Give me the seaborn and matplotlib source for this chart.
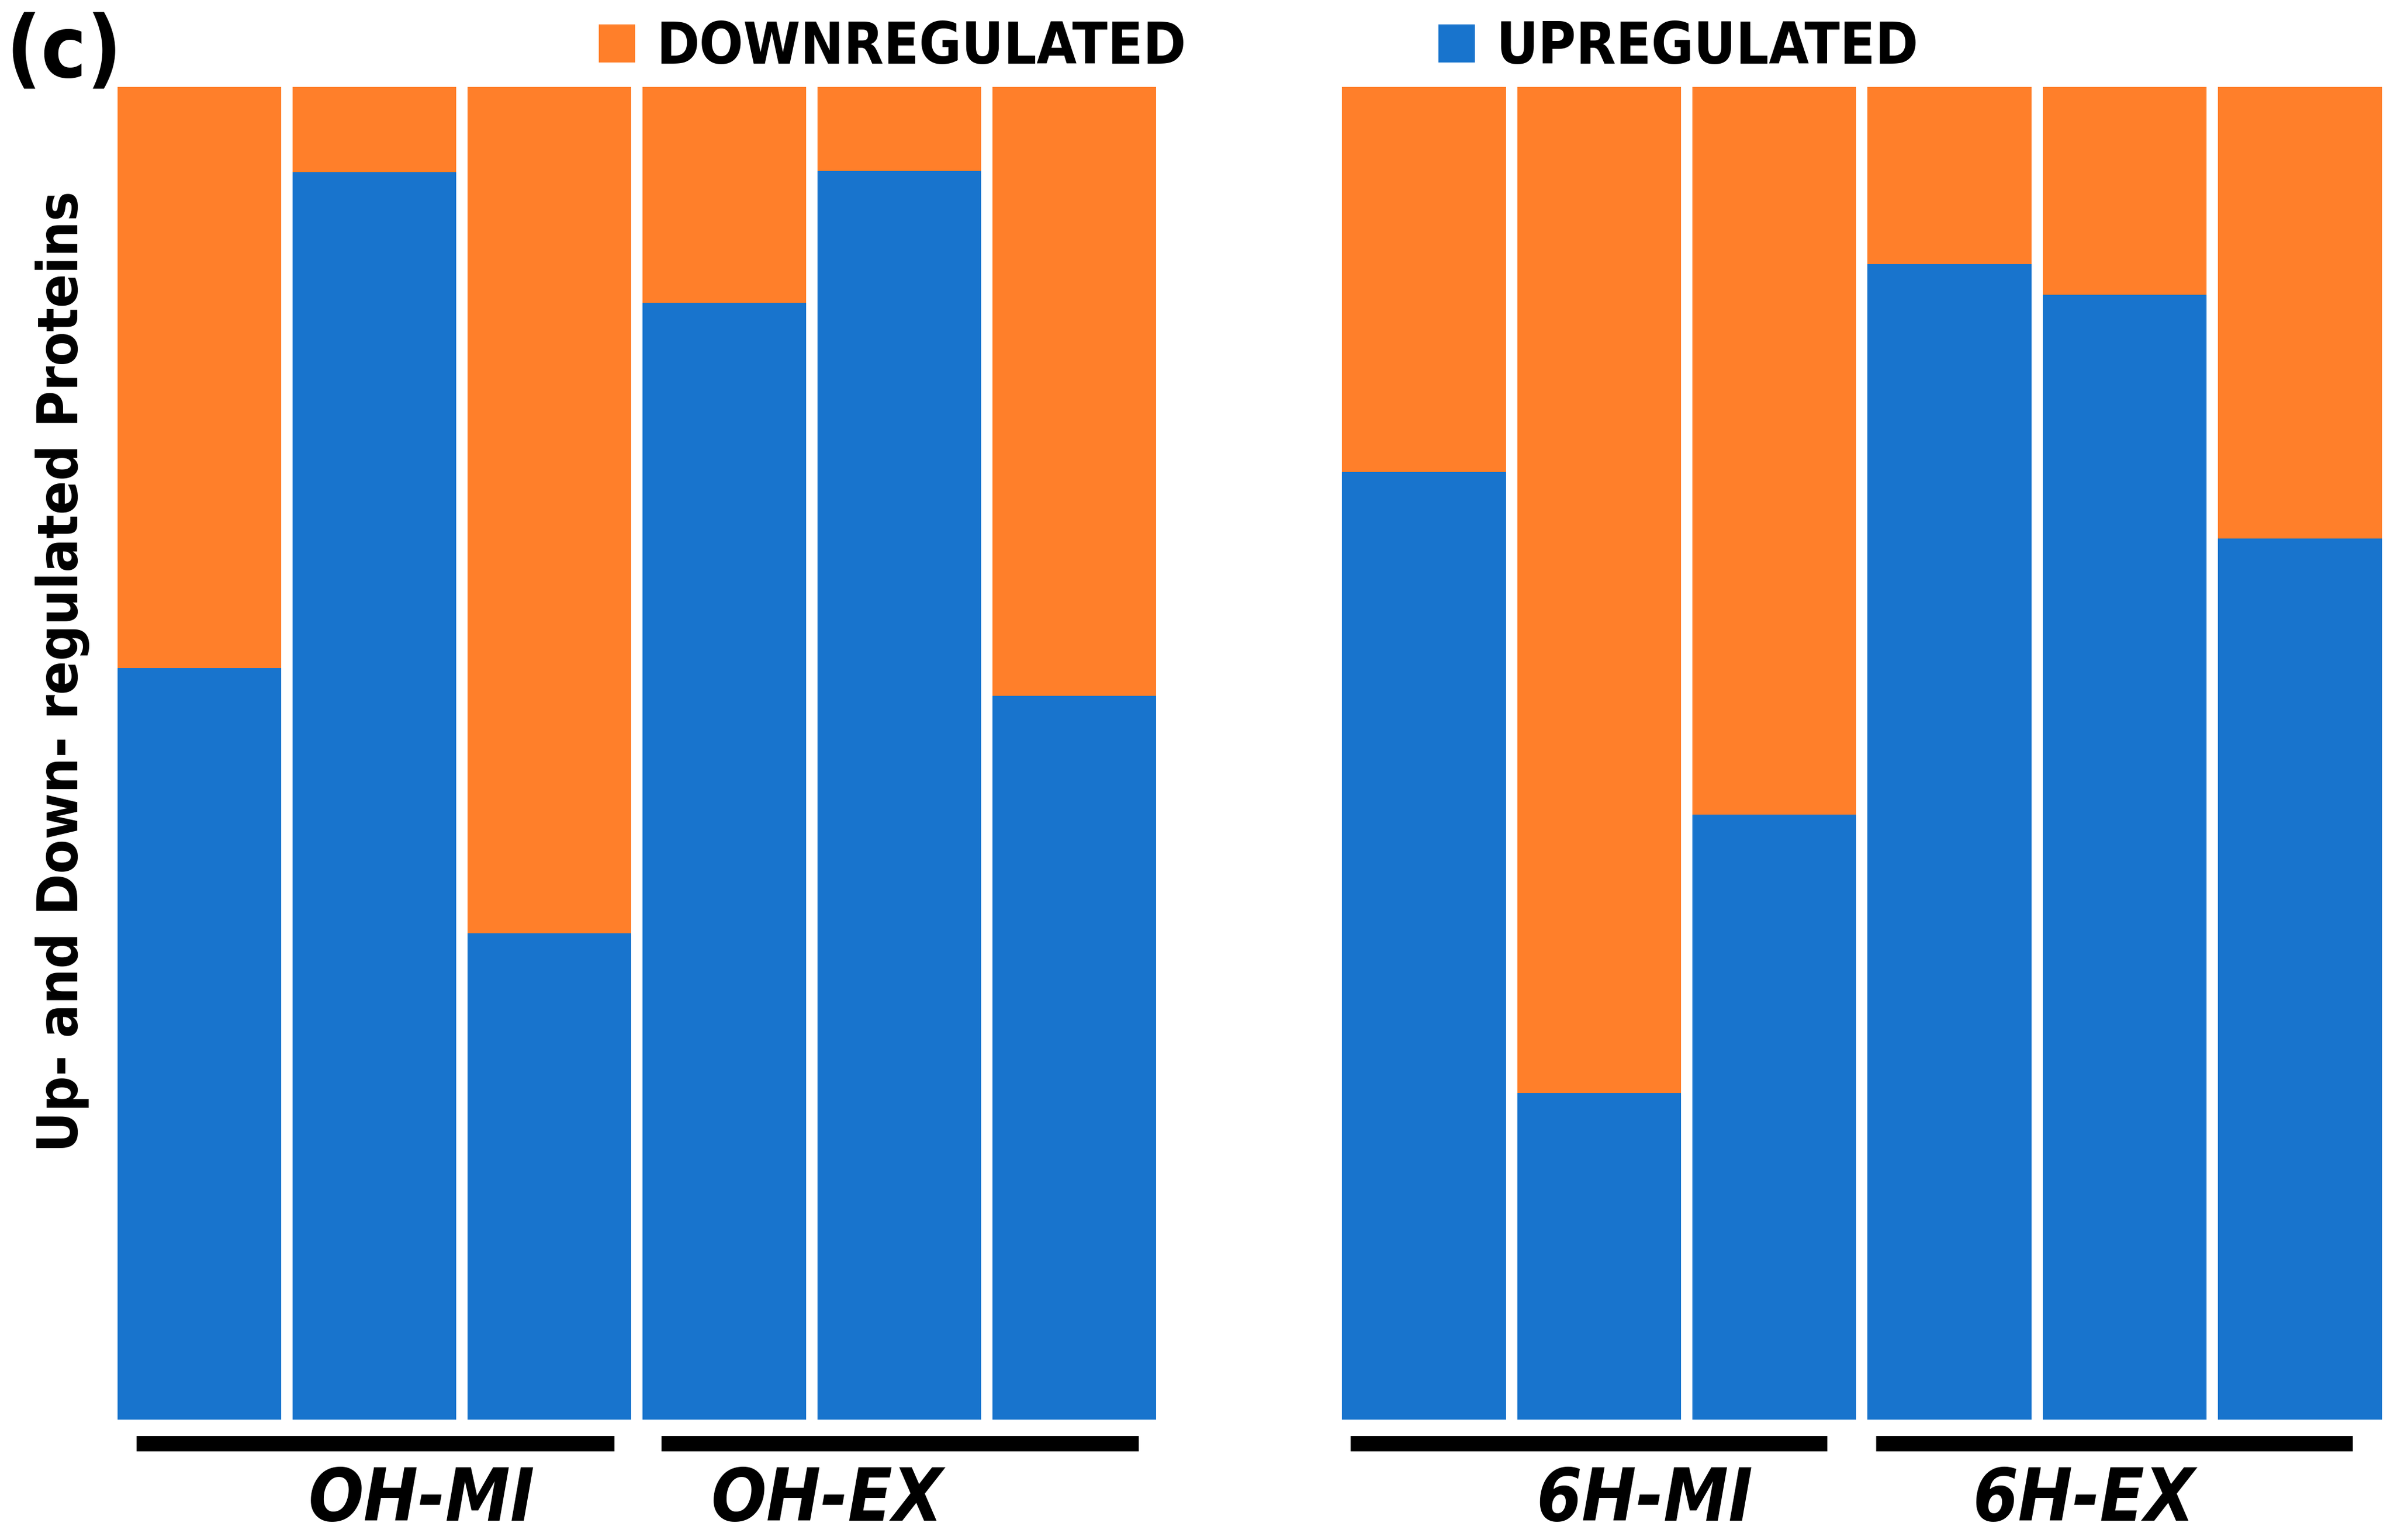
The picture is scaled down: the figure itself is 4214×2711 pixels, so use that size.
import matplotlib
matplotlib.use("Agg")
import matplotlib.pyplot as plt
from matplotlib import font_manager
import pandas as pd
import seaborn as sns

# share of up-regulated proteins per sample (%), the rest is down-regulated
left_samples = ["OH-MI-1", "OH-MI-2", "OH-MI-3", "OH-EX-1", "OH-EX-2", "OH-EX-3"]
left_up = [56.4, 93.6, 36.5, 83.8, 93.7, 54.3]
right_samples = ["6H-MI-1", "6H-MI-2", "6H-MI-3", "6H-EX-1", "6H-EX-2", "6H-EX-3"]
right_up = [71.1, 24.5, 45.4, 86.7, 84.4, 66.1]
left_groups = ["OH-MI", "OH-EX"]
right_groups = ["6H-MI", "6H-EX"]

ORANGE = "#FF7F2A"
BLUE = "#1874CD"
BAR_W = 0.935
PX = 4214 / 1568  # reference measurements were taken on a 1568 px wide view

sns.set_theme(style="white")


def weight_of(f):
    w = f.weight
    return font_manager.weight_dict.get(w, 400) if isinstance(w, str) else w


# the reference uses a bold condensed face; take one if installed
fonts = font_manager.fontManager.ttflist
narrow = [f for f in fonts
          if ("Narrow" in f.name or "Condensed" in f.name
              or f.stretch in ("condensed", "semi-condensed", "extra-condensed"))
          and weight_of(f) >= 600 and "Light" not in f.name and "Thin" not in f.name]
if narrow:
    family, stretch = narrow[0].name, narrow[0].stretch
else:
    family, stretch = "Liberation Sans", "normal"
plt.rcParams["font.family"] = [family, "DejaVu Sans"]
plt.rcParams["font.stretch"] = stretch
plt.rcParams["text.color"] = "black"

fig = plt.figure(figsize=(42.14, 27.11), dpi=100)
renderer = fig.canvas.get_renderer()


def fit(t, target_px, vertical=False):
    bb = t.get_window_extent(renderer)
    cur = bb.height if vertical else bb.width
    t.set_fontsize(t.get_fontsize() * target_px / cur)
    return t


def panel(ax, samples, up, groups, label_x, span):
    df = pd.DataFrame({"sample": samples, "up": up, "total": [100] * len(up)})
    sns.barplot(data=df, x="sample", y="total", color=ORANGE, saturation=1,
                width=BAR_W, linewidth=0, ax=ax, label="DOWNREGULATED")
    sns.barplot(data=df, x="sample", y="up", color=BLUE, saturation=1,
                width=BAR_W, linewidth=0, ax=ax, label="UPREGULATED")
    if ax.get_legend():
        ax.get_legend().remove()
    ax.set_xlim(-BAR_W / 2, len(samples) - 1 + BAR_W / 2)
    ax.set_ylim(0, 100)
    ax.set_axis_off()
    tr = ax.get_xaxis_transform()
    for i, g in enumerate(groups):
        start = i * 3
        ax.plot([start + span[0], start + span[1]], [-0.018, -0.018], color="black",
                lw=19.5, solid_capstyle="butt", transform=tr, clip_on=False)
        t = ax.text(label_x[i], -0.061, g, transform=tr, ha="center", va="center",
                    fontsize=100, fontweight="bold", fontstyle="italic")
        fit(t, 152 * PX)
        t.set_fontsize(min(t.get_fontsize(), 92))


ax1 = fig.add_axes([0.0491, 0.0783, 0.4337, 0.8652])
ax2 = fig.add_axes([0.5606, 0.0783, 0.4343, 0.8652])
panel(ax1, left_samples, left_up, left_groups, [1.27, 3.59], (-0.36, 2.37))
panel(ax2, right_samples, right_up, right_groups, [1.26, 3.765], (-0.42, 2.30))

ylab = fig.text(0.026, 0.564, "Up- and Down- regulated Proteins", rotation=90,
                ha="center", va="center", fontsize=80, fontweight="bold")
fit(ylab, 630 * PX, vertical=True)
tag = fig.text(4 / 1568, 0.965, "(c)", ha="left", va="center", fontsize=120,
               fontweight="bold")
fit(tag, 76 * PX)

probe = fig.text(0, 0, "DOWNREGULATED", fontsize=80, fontweight="bold")
leg_fs = fit(probe, 347 * PX).get_fontsize()
probe.remove()
em = leg_fs * 100 / 72

handles, labels = ax1.get_legend_handles_labels()
fig.legend(handles[:2], labels[:2], loc="center left", bbox_to_anchor=(392 / 1568, 0.969),
           ncol=2, frameon=False, prop={"weight": "bold", "size": leg_fs},
           handlelength=24 * PX / em, handleheight=24 * PX / em,
           handletextpad=14 * PX / em, columnspacing=165 * PX / em,
           borderpad=0, borderaxespad=0)

fig.savefig("out.png", dpi=100)
